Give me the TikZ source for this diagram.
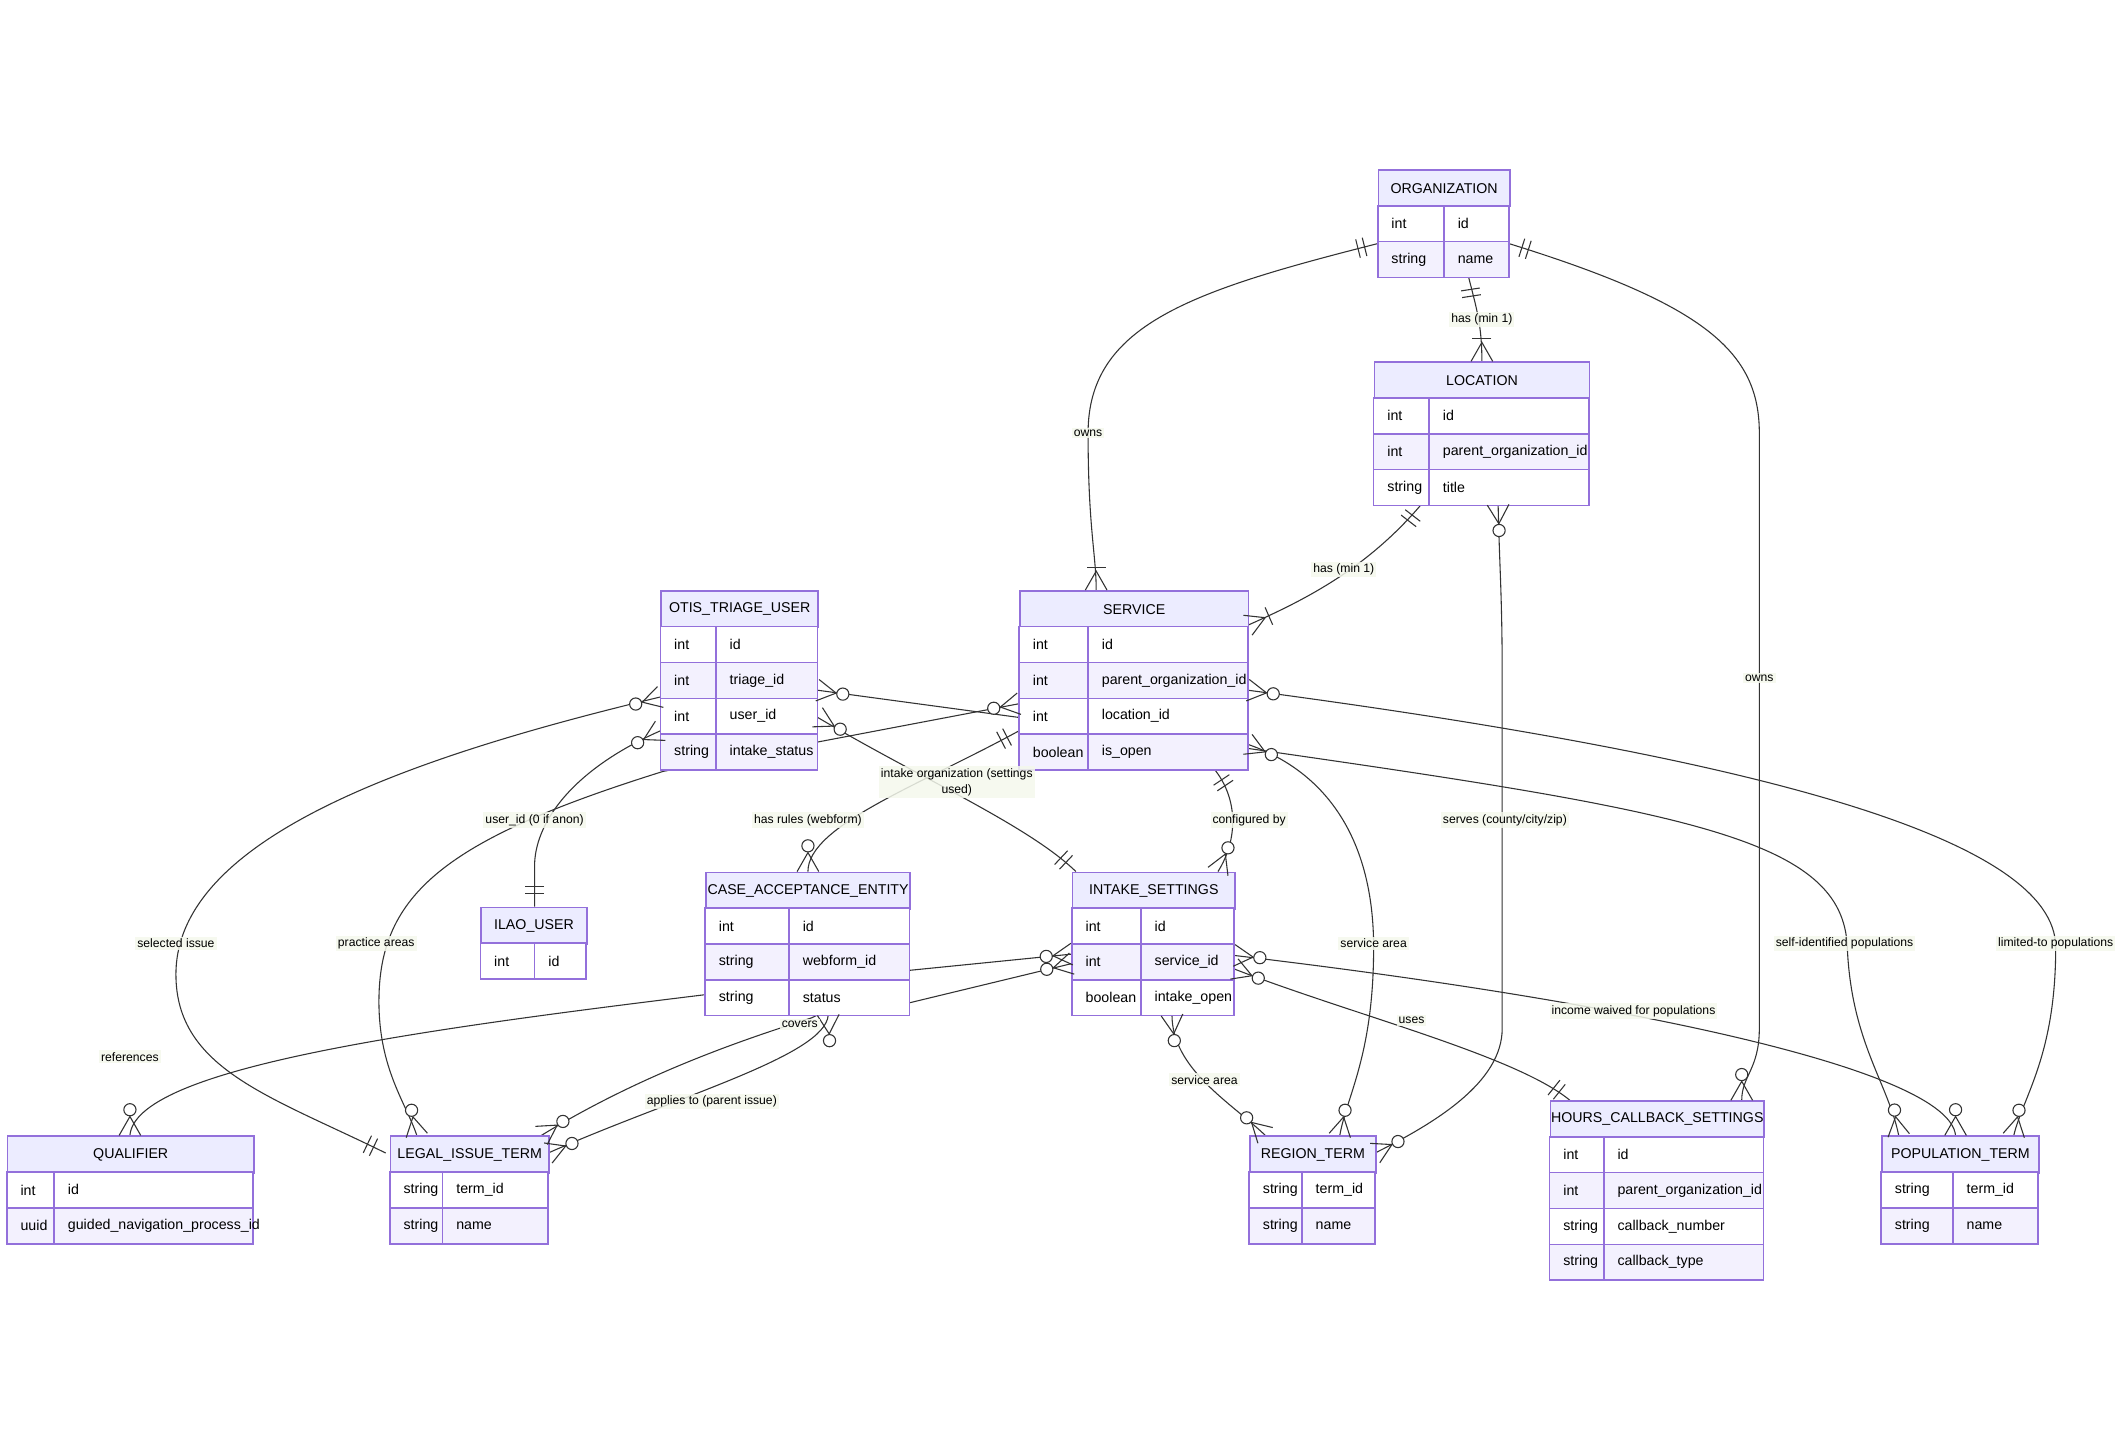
\documentclass[tikz,border=0pt]{standalone}
\usepackage{fontspec}
\setmainfont{Liberation Sans}
\usetikzlibrary{calc}
\definecolor{hdrfill}{HTML}{ECECFF}
\definecolor{boxline}{HTML}{9370DB}
\definecolor{rowalt}{HTML}{F3F1FE}
\definecolor{lblbg}{HTML}{F4F8EC}
\definecolor{edgec}{HTML}{333333}
\tikzset{
  box/.style={draw=boxline,line width=1.2pt},
  hdr/.style={box,fill=hdrfill,inner sep=0pt,font=\fontsize{10.5}{12}\selectfont},
  cell/.style={anchor=west,inner sep=0pt,font=\fontsize{10.5}{12}\selectfont},
  edge/.style={draw=edgec,line width=0.8pt},
  lbl/.style={fill=lblbg,fill opacity=0.85,text opacity=1,inner sep=1.5pt,align=center,font=\fontsize{9}{12}\selectfont}
}
\newcommand\entity[7]{%
  \node[hdr,anchor=north west,minimum width={#4pt-#2pt},minimum height=27pt] (#1) at (#2,#3) {#6};
  \foreach \t/\n [count=\i] in {#7} {
    \pgfmathsetmacro\yy{#3+27+(\i-1)*26.5}
    \ifodd\i\def\fc{white}\else\def\fc{rowalt}\fi
    \draw[box,fill=\fc] (#2,\yy) rectangle (#4,\yy+26.5);
    \draw[box] (#5,\yy) -- (#5,\yy+26.5);
    \node[cell] at (#2+10,\yy+13.25) {\t};
    \node[cell] at (#5+10,\yy+13.25) {\n};
  }%
}
\newcommand\mkcrow[2]{\draw[edge] ($(#1)!8pt!90:(#2)$) -- ($(#1)!14pt!(#2)$) -- ($(#1)!8pt!-90:(#2)$);}
\newcommand\mkbar[3]{\draw[edge] ($(#1)!#3!(#2)!7pt!90:(#1)$) -- ($(#1)!#3!(#2)!7pt!-90:(#1)$);}
\newcommand\mkcirc[2]{\draw[edge,fill=white] ($(#1)!19pt!(#2)$) circle (4.5pt);}
\newcommand\mkone[2]{\mkbar{#1}{#2}{10pt}\mkbar{#1}{#2}{15pt}}
\newcommand\mkom[2]{\mkcrow{#1}{#2}\mkbar{#1}{#2}{17pt}}
\newcommand\mkzm[2]{\mkcrow{#1}{#2}\mkcirc{#1}{#2}}
\begin{document}
\begin{tikzpicture}[x=1pt,y=-1pt]
\useasboundingbox (0,0) rectangle (1568,1070);
% endpoints
\coordinate (e1a) at (1018,180); \coordinate (e1at) at (990,187);
\coordinate (e1b) at (810,436);  \coordinate (e1bt) at (810,400);
\coordinate (e2a) at (1085,204); \coordinate (e2at) at (1089,230);
\coordinate (e2b) at (1095,267); \coordinate (e2bt) at (1095,240);
\coordinate (e3a) at (1115,180); \coordinate (e3at) at (1140,188);
\coordinate (e3b) at (1287,813); \coordinate (e3bt) at (1287,790);
\coordinate (e4a) at (1050,373); \coordinate (e4at) at (1040,386);
\coordinate (e4b) at (922,462);  \coordinate (e4bt) at (945,452);
\coordinate (e5a) at (1107,373); \coordinate (e5at) at (1108,400);
\coordinate (e5b) at (1016,852); \coordinate (e5bt) at (1040,840);
\coordinate (e6a) at (488,540);  \coordinate (e6at) at (465,552);
\coordinate (e6b) at (395,670);  \coordinate (e6bt) at (395,645);
\coordinate (e7a) at (488,515);  \coordinate (e7at) at (460,523);
\coordinate (e7b) at (285,852);  \coordinate (e7bt) at (260,840);
\coordinate (e8a) at (753,520);  \coordinate (e8at) at (725,525);
\coordinate (e8b) at (308,839);  \coordinate (e8bt) at (303,815);
\coordinate (e9a) at (604,510);  \coordinate (e9at) at (630,514);
\coordinate (e9b) at (1403,839); \coordinate (e9bt) at (1399,815);
\coordinate (e10a) at (604,530); \coordinate (e10at) at (625,541);
\coordinate (e10b) at (795,644); \coordinate (e10bt) at (777,627);
\coordinate (e11a) at (753,540); \coordinate (e11at) at (730,552);
\coordinate (e11b) at (597,644); \coordinate (e11bt) at (597,620);
\coordinate (e12a) at (897,568); \coordinate (e12at) at (905,580);
\coordinate (e12b) at (900,644); \coordinate (e12bt) at (908,625);
\coordinate (e13a) at (922,510); \coordinate (e13at) at (950,514);
\coordinate (e13b) at (1488,839);\coordinate (e13bt) at (1493,815);
\coordinate (e14a) at (922,550); \coordinate (e14at) at (945,560);
\coordinate (e14b) at (990,839); \coordinate (e14bt) at (995,815);
\coordinate (e15a) at (96,839);  \coordinate (e15at) at (96,815);
\coordinate (e15b) at (792,712); \coordinate (e15bt) at (770,717);
\coordinate (e16a) at (400,839); \coordinate (e16at) at (420,826);
\coordinate (e16b) at (792,705); \coordinate (e16bt) at (770,707);
\coordinate (e17a) at (405,852); \coordinate (e17at) at (425,844);
\coordinate (e17b) at (612,750); \coordinate (e17bt) at (613,770);
\coordinate (e18a) at (866,750); \coordinate (e18at) at (868,772);
\coordinate (e18b) at (935,839); \coordinate (e18bt) at (918,823);
\coordinate (e19a) at (912,706); \coordinate (e19at) at (935,708);
\coordinate (e19b) at (1445,839);\coordinate (e19bt) at (1445,815);
\coordinate (e20a) at (912,716); \coordinate (e20at) at (933,724);
\coordinate (e20b) at (1160,813);\coordinate (e20bt) at (1140,797);
% edges
\draw[edge] (e1a) .. controls (880,215) and (804,240) .. (804,320) .. controls (804,390) and (810,410) .. (e1b);
\draw[edge] (e2a) .. controls (1091,228) and (1095,240) .. (e2b);
\draw[edge] (e3a) .. controls (1260,225) and (1300,260) .. (1300,320) -- (1300,760) .. controls (1300,790) and (1287,795) .. (e3b);
\draw[edge] (e4a) .. controls (1010,420) and (965,443) .. (e4b);
\draw[edge] (e5a) .. controls (1108,420) and (1110,440) .. (1110,500) -- (1110,760) .. controls (1110,800) and (1060,830) .. (e5b);
\draw[edge] (e6a) .. controls (420,570) and (395,610) .. (395,640) -- (e6b);
\draw[edge] (e7a) .. controls (300,560) and (130,620) .. (130,720) .. controls (130,790) and (200,810) .. (e7b);
\draw[edge] (e8a) -- (490,570) .. controls (330,620) and (280,660) .. (280,740) .. controls (280,790) and (300,815) .. (e8b);
\draw[edge] (e9a) -- (922,553) .. controls (1250,600) and (1362,620) .. (1365,700) .. controls (1368,770) and (1395,800) .. (e9b);
\draw[edge] (e10a) .. controls (680,575) and (760,610) .. (e10b);
\draw[edge] (e11a) .. controls (680,580) and (597,610) .. (e11b);
\draw[edge] (e12a) .. controls (915,590) and (915,620) .. (e12b);
\draw[edge] (e13a) .. controls (1300,560) and (1519,620) .. (1519,700) .. controls (1519,780) and (1495,810) .. (e13b);
\draw[edge] (e14a) .. controls (980,570) and (1015,620) .. (1015,700) .. controls (1015,780) and (995,810) .. (e14b);
\draw[edge] (e15a) .. controls (100,790) and (300,762) .. (521,735) -- (672,741) -- (e15b);
\draw[edge] (e16a) .. controls (480,790) and (560,765) .. (600,752) -- (672,717) -- (e16b);
\draw[edge] (e17a) .. controls (500,810) and (610,780) .. (e17b);
\draw[edge] (e18a) .. controls (866,790) and (910,815) .. (e18b);
\draw[edge] (e19a) .. controls (1200,740) and (1440,790) .. (e19b);
\draw[edge] (e20a) .. controls (1000,750) and (1120,780) .. (e20b);
% entities
\entity{org}{1018}{125}{1115}{1067}{ORGANIZATION}{int/id,string/name}
\entity{loc}{1015}{267}{1174}{1056}{LOCATION}{int/id,int/parent\_organization\_id,string/title}
\entity{otis}{488}{436}{604}{529}{OTIS\_TRIAGE\_USER}{int/id,int/triage\_id,int/user\_id,string/intake\_status}
\entity{svc}{753}{436}{922}{804}{SERVICE}{int/id,int/parent\_organization\_id,int/location\_id,boolean/is\_open}
\entity{ilao}{355}{670}{433}{395}{ILAO\_USER}{int/id}
\entity{cae}{521}{644}{672}{583}{CASE\_ACCEPTANCE\_ENTITY}{int/id,string/webform\_id,string/status}
\entity{ints}{792}{644}{912}{843}{INTAKE\_SETTINGS}{int/id,int/service\_id,boolean/intake\_open}
\entity{qual}{5}{839}{187}{40}{QUALIFIER}{int/id,uuid/guided\_navigation\_process\_id}
\entity{lit}{288}{839}{405}{327}{LEGAL\_ISSUE\_TERM}{string/term\_id,string/name}
\entity{reg}{923}{839}{1016}{962}{REGION\_TERM}{string/term\_id,string/name}
\entity{hcs}{1145}{813}{1303}{1185}{HOURS\_CALLBACK\_SETTINGS}{int/id,int/parent\_organization\_id,string/callback\_number,string/callback\_type}
\entity{pop}{1390}{839}{1506}{1443}{POPULATION\_TERM}{string/term\_id,string/name}
% markers
\mkone{e1a}{e1at} \mkom{e1b}{e1bt}
\mkone{e2a}{e2at} \mkom{e2b}{e2bt}
\mkone{e3a}{e3at} \mkzm{e3b}{e3bt}
\mkone{e4a}{e4at} \mkom{e4b}{e4bt}
\mkzm{e5a}{e5at} \mkzm{e5b}{e5bt}
\mkzm{e6a}{e6at} \mkone{e6b}{e6bt}
\mkzm{e7a}{e7at} \mkone{e7b}{e7bt}
\mkzm{e8a}{e8at} \mkzm{e8b}{e8bt}
\mkzm{e9a}{e9at} \mkzm{e9b}{e9bt}
\mkzm{e10a}{e10at} \mkone{e10b}{e10bt}
\mkone{e11a}{e11at} \mkzm{e11b}{e11bt}
\mkone{e12a}{e12at} \mkzm{e12b}{e12bt}
\mkzm{e13a}{e13at} \mkzm{e13b}{e13bt}
\mkzm{e14a}{e14at} \mkzm{e14b}{e14bt}
\mkzm{e15a}{e15at} \mkzm{e15b}{e15bt}
\mkzm{e16a}{e16at} \mkzm{e16b}{e16bt}
\mkzm{e17a}{e17at} \mkzm{e17b}{e17bt}
\mkzm{e18a}{e18at} \mkzm{e18b}{e18bt}
\mkzm{e19a}{e19at} \mkzm{e19b}{e19bt}
\mkzm{e20a}{e20at} \mkone{e20b}{e20bt}
% labels
\node[lbl] (l1) at (804,320) {owns};
\node[lbl] (l2) at (1095,236) {has (min 1)};
\node[lbl] (l3) at (1300,501) {owns};
\node[lbl] (l4) at (993,421) {has (min 1)};
\node[lbl] (l5) at (1112,606) {serves (county/city/zip)};
\node[lbl] (l6) at (395,606) {user\_id (0 if anon)};
\node[lbl] (l7) at (130,697) {selected issue};
\node[lbl] (l8) at (278,697) {practice areas};
\node[lbl] (l9) at (1363,697) {self-identified populations};
\node[lbl] (l10) at (707,578) {intake organization (settings\\used)};
\node[lbl] (l11) at (597,606) {has rules (webform)};
\node[lbl] (l12) at (923,606) {configured by};
\node[lbl] (l13) at (1519,697) {limited-to populations};
\node[lbl] (l14) at (1015,697) {service area};
\node[lbl] (l15) at (96,781) {references};
\node[lbl] (l16) at (591,757) {covers};
\node[lbl] (l17) at (526,814) {applies to (parent issue)};
\node[lbl] (l18) at (890,798) {service area};
\node[lbl] (l19) at (1207,747) {income waived for populations};
\node[lbl] (l20) at (1043,754) {uses};
\end{tikzpicture}
\end{document}
